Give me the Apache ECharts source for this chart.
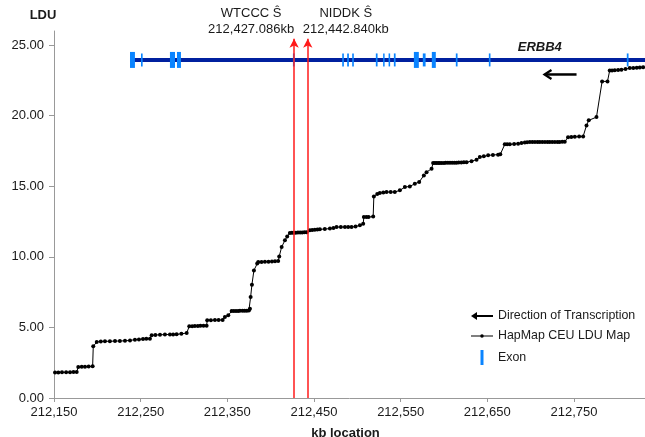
<!DOCTYPE html>
<html>
<head>
    <meta charset="utf-8">
    <title>ERBB4 LDU map</title>
    <style>
        html, body { margin: 0; padding: 0; background: #fff; }
        #chart { width: 645px; height: 437px; }
    </style>
</head>
<body>
<div id="chart"></div>
<script src="https://cdn.jsdelivr.net/npm/echarts@6/dist/echarts.min.js"></script>
<script type="text/javascript">
    // x origin of the axis (kb); values are drawn as offsets from it so ticks land on 212,150 / 212,250 ...
    var X0 = 212150;
    var X_SPAN = 682;

    // HapMap CEU LDU map (kb location, LDU)
    var ldLoc = [212151.2, 212155.0, 212159.2, 212164.0, 212168.5, 212172.5, 212176.2, 212178.0, 212182.0, 212185.8,
        212190.0, 212194.6, 212195.3, 212199.3, 212204.0, 212208.8, 212214.5, 212220.4, 212226.0, 212231.9,
        212237.7, 212243.4, 212248.0, 212252.7, 212256.5, 212260.7, 212262.7, 212267.0, 212272.3, 212278.0,
        212283.8, 212287.5, 212291.5, 212297.0, 212303.1, 212306.1, 212309.5, 212312.6, 212316.0, 212319.0,
        212322.5, 212326.1, 212326.8, 212331.0, 212335.7, 212340.0, 212344.6, 212347.2, 212351.1, 212355.0,
        212357.5, 212360.0, 212362.5, 212364.6, 212367.5, 212370.0, 212372.5, 212374.9, 212376.1, 212376.9,
        212378.4, 212380.7, 212384.5, 212385.7, 212389.5, 212393.4, 212397.5, 212401.5, 212405.0, 212408.7,
        212409.9, 212412.7, 212416.5, 212419.1, 212422.2, 212424.5, 212426.5, 212429.0, 212431.5, 212434.0,
        212436.5, 212439.0, 212441.5, 212445.3, 212448.0, 212451.0, 212454.0, 212456.8, 212462.5, 212468.4,
        212472.5, 212476.1, 212481.0, 212485.7, 212489.5, 212493.4, 212498.0, 212503.0, 212506.8, 212507.6,
        212510.5, 212513.0, 212518.3, 212519.1, 212523.0, 212526.0, 212530.0, 212533.8, 212538.5, 212543.3,
        212549.1, 212554.9, 212560.6, 212566.4, 212571.4, 212576.8, 212579.9, 212585.7, 212587.5, 212589.5,
        212591.5, 212593.5, 212595.3, 212597.5, 212600.0, 212602.0, 212604.5, 212607.0, 212609.5, 212612.0,
        212614.5, 212617.0, 212620.0, 212623.0, 212626.1, 212631.8, 212637.6, 212641.4, 212646.0, 212651.0,
        212656.5, 212662.5, 212665.0, 212670.2, 212673.0, 212676.0, 212681.0, 212685.6, 212689.5, 212693.3,
        212696.0, 212699.1, 212702.0, 212705.0, 212708.0, 212710.6, 212713.5, 212716.5, 212719.5, 212722.1,
        212725.0, 212728.0, 212731.0, 212733.5, 212736.5, 212739.4, 212743.2, 212747.0, 212751.0, 212756.0,
        212760.6, 212764.5, 212767.1, 212776.0, 212782.5, 212788.7, 212791.3, 212794.0, 212797.1, 212801.0,
        212804.8, 212809.5, 212814.4, 212818.5, 212822.5, 212826.0, 212829.8];
    var ldValue = [1.80, 1.81, 1.82, 1.82, 1.83, 1.84, 1.85, 2.20, 2.21, 2.22,
        2.23, 2.25, 3.66, 3.97, 4.00, 4.02, 4.02, 4.03, 4.04, 4.05,
        4.08, 4.13, 4.15, 4.18, 4.19, 4.20, 4.44, 4.46, 4.48, 4.49,
        4.50, 4.50, 4.51, 4.55, 4.60, 5.08, 5.09, 5.10, 5.10, 5.11,
        5.11, 5.12, 5.50, 5.51, 5.52, 5.52, 5.53, 5.74, 5.86, 6.16,
        6.16, 6.17, 6.17, 6.18, 6.18, 6.19, 6.19, 6.20, 6.33, 7.15,
        8.03, 9.04, 9.52, 9.63, 9.64, 9.65, 9.66, 9.67, 9.68, 9.70,
        10.03, 10.70, 11.17, 11.45, 11.69, 11.70, 11.70, 11.71, 11.72, 11.72,
        11.73, 11.74, 11.75, 11.88, 11.90, 11.92, 11.93, 11.95, 11.97, 12.00,
        12.05, 12.11, 12.11, 12.11, 12.11, 12.11, 12.15, 12.23, 12.35, 12.82,
        12.82, 12.82, 12.85, 14.28, 14.45, 14.52, 14.55, 14.59, 14.59, 14.59,
        14.71, 14.94, 14.99, 15.18, 15.30, 15.77, 16.00, 16.24, 16.64, 16.64,
        16.64, 16.65, 16.65, 16.65, 16.65, 16.66, 16.66, 16.66, 16.66, 16.67,
        16.67, 16.68, 16.69, 16.70, 16.71, 16.78, 16.88, 17.07, 17.12, 17.19,
        17.22, 17.24, 17.26, 17.97, 17.97, 17.97, 18.00, 18.02, 18.06, 18.10,
        18.12, 18.13, 18.13, 18.13, 18.13, 18.13, 18.13, 18.13, 18.13, 18.13,
        18.14, 18.14, 18.14, 18.14, 18.15, 18.15, 18.48, 18.49, 18.50, 18.52,
        18.53, 19.31, 19.67, 19.90, 22.43, 22.43, 23.21, 23.21, 23.22, 23.24,
        23.26, 23.30, 23.37, 23.38, 23.40, 23.42, 23.44];

    // ERBB4 gene body and exons (kb)
    var geneStart = 212237.7;
    var geneEnd = 212832;
    var geneLevel = 23.95;
    var exonStart = [212237.7, 212250.4, 212283.8, 212291.9, 212425.7, 212482.6, 212488.3, 212494.1, 212521.4, 212529.8,
        212536.1, 212542.2, 212565.3, 212575.6, 212586.0, 212613.7, 212651.8, 212811.0];
    var exonEnd = [212243.4, 212252.3, 212289.6, 212296.5, 212427.7, 212484.5, 212490.3, 212496.0, 212523.4, 212530.6,
        212537.9, 212544.2, 212571.0, 212578.8, 212590.6, 212615.7, 212653.7, 212813.0];

    // direction of transcription arrow (from, to) and its level
    var arrowLoc = [212753, 212716];
    var arrowLevel = 22.92;

    // associated SNPs
    var snpName = ['WTCCC Ŝ', 'NIDDK Ŝ'];
    var snpLoc = [212427.086, 212442.840];
    var snpLabel = ['212,427.086kb', '212,442.840kb'];
    var snpTop = 25.45;

    var yTicks = [0, 5, 10, 15, 20, 25];

    var FONT = 'Liberation Sans, Arial, Helvetica, sans-serif';
    var TEXT = '#1a1a1a';
    var AXIS = '#999999';

    function rel(kb) { return kb - X0; }

    var ldData = ldLoc.map(function (x, i) { return [rel(x), ldValue[i]]; });
    var exonData = exonStart.map(function (s, i) { return [rel(s), rel(exonEnd[i])]; });

    var snpTextStyle = { show: true, position: 'top', distance: 1, lineHeight: 16, fontSize: 13, color: TEXT, fontFamily: FONT };

    var myChart = echarts.init(document.getElementById('chart'));

    var option = {
        animation: false,
        textStyle: { fontFamily: FONT, color: TEXT },
        grid: { left: 54, right: 0, top: 31, bottom: 39, containLabel: false, outerBoundsMode: 'none' },
        legend: {
            orient: 'vertical',
            left: 466,
            top: 305,
            itemWidth: 22,
            itemHeight: 15,
            itemGap: 8,
            textStyle: { fontFamily: FONT, fontSize: 12.4, color: TEXT },
            data: [
                { name: 'Direction of Transcription', icon: 'path://M0,4L6,0L6,3L22,3L22,5L6,5L6,8Z' },
                { name: 'HapMap CEU LDU Map', icon: 'path://M0,1L18,1L18,2L0,2Z M9,0A1.5,1.5,0,1,1,9,3A1.5,1.5,0,1,1,9,0Z' },
                { name: 'Exon', icon: 'path://M0,0L3,0L3,15L0,15Z' }
            ]
        },
        xAxis: {
            type: 'value',
            min: 0,
            max: X_SPAN,
            interval: 100,
            name: 'kb location',
            nameLocation: 'middle',
            nameGap: 29,
            nameTextStyle: { fontFamily: FONT, fontSize: 13, fontWeight: 'bold', color: TEXT, padding: [0, 8, 0, 0] },
            axisLine: { onZero: false, lineStyle: { color: AXIS, width: 1 } },
            axisTick: { show: true, length: 4, lineStyle: { color: AXIS } },
            axisLabel: {
                margin: 8,
                fontSize: 13,
                color: TEXT,
                showMaxLabel: false,
                formatter: function (v) { return (X0 + v).toLocaleString('en-US'); }
            },
            splitLine: { show: false }
        },
        yAxis: {
            type: 'value',
            min: 0,
            max: 26,
            interval: 5,
            name: 'LDU',
            nameLocation: 'end',
            nameGap: 9,
            nameTextStyle: { fontFamily: FONT, fontSize: 13, fontWeight: 'bold', color: TEXT, padding: [0, 22, 0, 0] },
            axisLine: { show: true, lineStyle: { color: AXIS, width: 1 } },
            axisTick: { show: true, length: 5, lineStyle: { color: AXIS } },
            axisLabel: {
                margin: 10,
                fontSize: 13,
                color: TEXT,
                showMaxLabel: false,
                formatter: function (v) { return yTicks.indexOf(v) >= 0 ? v.toFixed(2) : ''; }
            },
            splitLine: { show: false }
        },
        series: [
            {
                // gene body, SNP markers and labels
                name: 'ERBB4',
                type: 'line',
                z: 2,
                data: [[rel(geneStart), geneLevel], [rel(geneEnd), geneLevel]],
                symbol: 'none',
                lineStyle: { color: '#00209F', width: 4 },
                silent: true,
                markLine: {
                    silent: true,
                    symbol: ['none', 'arrow'],
                    symbolSize: [7, 9],
                    label: { show: false },
                    lineStyle: { color: '#ff1a1a', width: 1.5, type: 'solid' },
                    data: snpLoc.map(function (x) {
                        return [{ coord: [rel(x), 0] }, { coord: [rel(x), snpTop] }];
                    })
                },
                markPoint: {
                    silent: true,
                    symbol: 'circle',
                    symbolSize: 0,
                    data: [
                        {
                            coord: [rel(snpLoc[0]), snpTop],
                            label: Object.assign({}, snpTextStyle, {
                                offset: [-43, 0],
                                formatter: snpName[0] + '\n' + snpLabel[0]
                            })
                        },
                        {
                            coord: [rel(snpLoc[1]), snpTop],
                            label: Object.assign({}, snpTextStyle, {
                                offset: [38, 0],
                                formatter: snpName[1] + '\n' + snpLabel[1]
                            })
                        },
                        {
                            coord: [rel(212710.6), 24.84],
                            label: {
                                show: true, position: 'inside', formatter: 'ERBB4',
                                fontSize: 13, fontWeight: 'bold', fontStyle: 'italic', color: TEXT, fontFamily: FONT
                            }
                        }
                    ]
                }
            },
            {
                name: 'Exon',
                type: 'custom',
                z: 3,
                itemStyle: { color: '#0A84FF' },
                data: exonData,
                encode: { x: [0, 1] },
                renderItem: function (params, api) {
                    var s = api.coord([api.value(0), geneLevel]);
                    var e = api.coord([api.value(1), geneLevel]);
                    var w = Math.max(e[0] - s[0], 1.5);
                    var h = w > 3.5 ? 16 : 13;
                    return {
                        type: 'rect',
                        shape: { x: s[0], y: s[1] - h / 2, width: w, height: h },
                        style: { fill: api.visual('color') }
                    };
                }
            },
            {
                name: 'Direction of Transcription',
                type: 'custom',
                z: 3,
                itemStyle: { color: '#000' },
                data: [[rel(arrowLoc[0]), rel(arrowLoc[1]), arrowLevel]],
                encode: { x: [0, 1], y: 2 },
                renderItem: function (params, api) {
                    var a = api.coord([api.value(0), api.value(2)]);
                    var b = api.coord([api.value(1), api.value(2)]);
                    return {
                        type: 'group',
                        children: [
                            { type: 'line', shape: { x1: a[0], y1: a[1], x2: b[0] + 1, y2: b[1] },
                              style: { stroke: '#000', lineWidth: 2.5 } },
                            { type: 'polyline', shape: { points: [[b[0] + 7, b[1] - 4.5], [b[0], b[1]], [b[0] + 7, b[1] + 4.5]] },
                              style: { stroke: '#000', lineWidth: 2.2, fill: null } }
                        ]
                    };
                }
            },
            {
                name: 'HapMap CEU LDU Map',
                type: 'line',
                z: 4,
                data: ldData,
                showAllSymbol: true,
                symbol: 'circle',
                symbolSize: 4,
                itemStyle: { color: '#000' },
                lineStyle: { color: '#000', width: 1 }
            }
        ]
    };

    myChart.setOption(option);
</script>
</body>
</html>
